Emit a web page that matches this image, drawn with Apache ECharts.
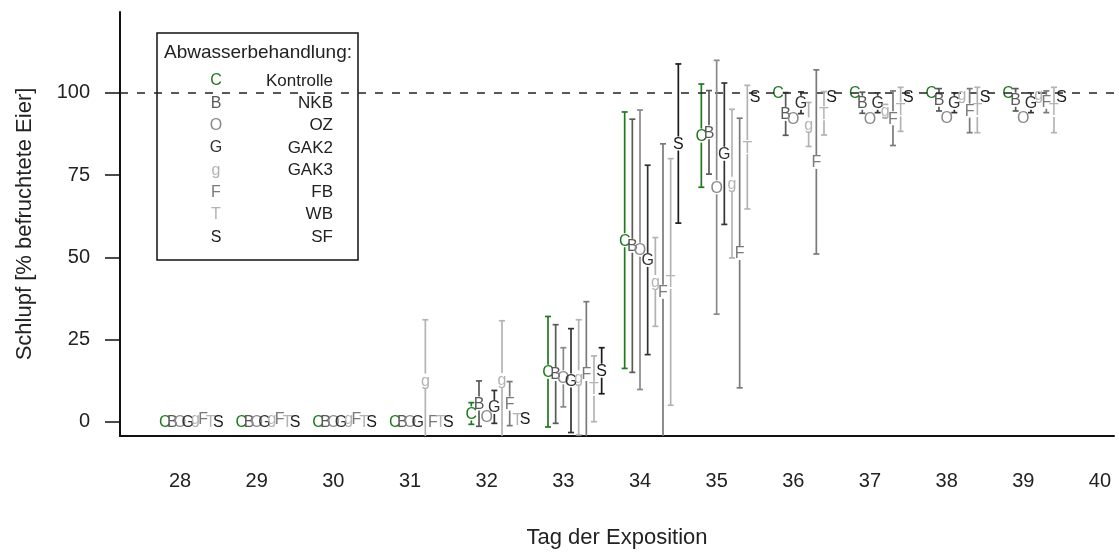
<!DOCTYPE html>
<html><head><meta charset="utf-8">
<script src="https://cdn.jsdelivr.net/npm/echarts@6/dist/echarts.min.js"></script>
<style>html,body{margin:0;padding:0;background:#fff}#c{width:1119px;height:552px}</style>
</head><body><div id="c"></div>
<script>
// ---------- data ----------
const days = [28, 29, 30, 31, 32, 33, 34, 35, 36, 37, 38, 39];
const symbols = ['C', 'B', 'O', 'G', 'g', 'F', 'T', 'S'];
const treatmentNames = ['Kontrolle', 'NKB', 'OZ', 'GAK2', 'GAK3', 'FB', 'WB', 'SF'];
const legendTitle = 'Abwasserbehandlung:';
const xTicks = [28, 29, 30, 31, 32, 33, 34, 35, 36, 37, 38, 39, 40];
const yTicks = [0, 25, 50, 75, 100];
const refLine = 100;
const xTitle = 'Tag der Exposition';
const yTitle = 'Schlupf [% befruchtete Eier]';

const meanC = [0, 0, 0, 0, 2.5, 15.2, 55.2, 87.0, 100, 100, 100, 100];
const sdC   = [0, 0, 0, 0, 3.3, 16.8, 39.0, 15.7, 0, 0, 0, 0];
const meanB = [0, 0, 0, 0, 5.5, 14.5, 53.5, 88.0, 93.6, 97.0, 97.9, 97.9];
const sdB   = [0, 0, 0, 0, 6.9, 15.0, 38.5, 12.7, 6.5, 3.2, 3.4, 3.4];
const meanO = [0, 0, 0, 0, 1.5, 13.5, 52.3, 71.3, 92.2, 92.2, 92.5, 92.5];
const sdO   = [0, 0, 0, 0, 0, 9.0, 42.5, 38.6, 0, 0, 0, 0];
const meanG = [0, 0, 0, 0, 4.5, 12.5, 49.2, 81.5, 97.0, 97.0, 97.0, 97.0];
const sdG   = [0, 0, 0, 0, 5.0, 15.8, 28.8, 21.5, 3.3, 3.0, 3.0, 3.0];
const meang = [1, 1, 1, 12.5, 12.7, 13.5, 42.5, 72.4, 90.4, 94.5, 99.5, 99.5];
const sdg   = [0, 0, 0, 18.5, 18.0, 17.5, 13.5, 22.6, 6.7, 2.0, 0, 0];
const meanF = [1, 1, 1, 0, 5.5, 14.5, 39.5, 51.3, 79.0, 92.3, 94.6, 97.3];
const sdF   = [0, 0, 0, 0, 6.7, 22.0, 45.0, 41.0, 28.0, 8.3, 6.7, 3.3];
const meanT = [0, 0, 0, 0, 0.5, 10.0, 42.5, 83.5, 93.8, 95.0, 94.8, 94.8];
const sdT   = [0, 0, 0, 0, 0, 10.0, 37.5, 18.8, 6.6, 6.7, 6.9, 6.9];
const meanS = [0, 0, 0, 0, 1, 15.5, 84.6, 99, 99, 99, 99, 99];
const sdS   = [0, 0, 0, 0, 0, 7.0, 24.2, 0, 0, 0, 0, 0];

const means = [meanC, meanB, meanO, meanG, meang, meanF, meanT, meanS];
const sds = [sdC, sdB, sdO, sdG, sdg, sdF, sdT, sdS];

// ---------- style ----------
const FONT = 'Liberation Sans';
const colors = ['#1f7a1f', '#5a5a5a', '#8a8a8a', '#333333', '#b3b3b3', '#7a7a7a', '#b3b3b3', '#1a1a1a'];
const OFFSET_STEP = 0.1;  // horizontal spread of treatments within a day
const GAP = 7;            // px gap of error bar around the letter
const CAP = 3;            // half cap width in px

const chart = echarts.init(document.getElementById('c'), null, { renderer: 'canvas' });

const series = symbols.map((sym, i) => ({
  type: 'custom',
  name: treatmentNames[i],
  silent: true,
  z: 3 + i,
  data: days.map((d, k) => [d, means[i][k], sds[i][k]]),
  encode: { x: 0, y: 1 },
  renderItem: (params, api) => {
    const day = api.value(0), m = api.value(1), s = api.value(2);
    const x = day + (i - 2) * OFFSET_STEP;
    const c = api.coord([x, m]);
    const cs = params.coordSys;
    const y0 = cs.y, y1 = cs.y + cs.height;
    const clamp = v => Math.max(y0, Math.min(y1, v));
    const children = [];
    const st = { stroke: colors[i], lineWidth: 1.7 };
    if (s > 0) {
      const top = api.coord([x, m + s])[1];
      const bot = api.coord([x, m - s])[1];
      if (c[1] - GAP > top) children.push({ type: 'line', shape: { x1: c[0], y1: clamp(top), x2: c[0], y2: c[1] - GAP }, style: st });
      if (c[1] + GAP < bot) children.push({ type: 'line', shape: { x1: c[0], y1: c[1] + GAP, x2: c[0], y2: clamp(bot) }, style: st });
      if (top >= y0) children.push({ type: 'line', shape: { x1: c[0] - CAP, y1: top, x2: c[0] + CAP, y2: top }, style: st });
      if (bot <= y1) children.push({ type: 'line', shape: { x1: c[0] - CAP, y1: bot, x2: c[0] + CAP, y2: bot }, style: st });
    }
    children.push({
      type: 'text', x: c[0], y: c[1] + 1,
      style: { text: sym, fill: colors[i], font: '16px "' + FONT + '"', align: 'center', verticalAlign: 'middle' }
    });
    return { type: 'group', children };
  }
}));

// dashed reference line at 100
series[0].markLine = {
  silent: true, symbol: 'none', label: { show: false },
  lineStyle: { type: [8, 9], color: '#222', width: 1.6 },
  data: [{ yAxis: refLine }]
};

// legend (drawn as graphic, on top of reference line)
const LX = 157, LY = 33, LW = 201, LH = 227, ROW = 22.3;
const legendChildren = [
  { type: 'rect', shape: { x: LX, y: LY, width: LW, height: LH }, style: { fill: '#fff', stroke: '#111', lineWidth: 1.5 } },
  { type: 'text', x: LX + 101, y: LY + 20, style: { text: legendTitle, fill: '#222', font: '19px "' + FONT + '"', align: 'center', verticalAlign: 'middle' } }
];
symbols.forEach((sym, i) => {
  legendChildren.push({ type: 'text', x: LX + 59, y: LY + 48 + i * ROW, style: { text: sym, fill: colors[i], font: '16px "' + FONT + '"', align: 'center', verticalAlign: 'middle' } });
  legendChildren.push({ type: 'text', x: LX + 176, y: LY + 48 + i * ROW, style: { text: treatmentNames[i], fill: '#222', font: '17px "' + FONT + '"', align: 'right', verticalAlign: 'middle' } });
});

chart.setOption({
  animation: false,
  backgroundColor: '#fff',
  grid: { left: 120, right: 5, top: 12, bottom: 116, containLabel: false, outerBoundsMode: 'none' },
  xAxis: {
    type: 'value', min: 27.217, max: 40.183,
    axisLine: { show: true, onZero: false, lineStyle: { color: '#111', width: 2 } },
    axisTick: { show: false },
    splitLine: { show: false },
    axisLabel: { customValues: xTicks, fontSize: 20, fontFamily: FONT, color: '#222', margin: 35 },
    name: xTitle, nameLocation: 'middle', nameGap: 91,
    nameTextStyle: { fontSize: 22, fontFamily: FONT, color: '#222' }
  },
  yAxis: {
    type: 'value', min: -4.35, max: 124.6,
    axisLine: { show: true, onZero: false, lineStyle: { color: '#111', width: 2 } },
    axisTick: { show: true, length: 15, customValues: yTicks, lineStyle: { color: '#111', width: 1.5 } },
    splitLine: { show: false },
    axisLabel: { customValues: yTicks, fontSize: 20, fontFamily: FONT, color: '#222', margin: 30 },
    name: yTitle, nameLocation: 'middle', nameGap: 84,
    nameTextStyle: { fontSize: 22, fontFamily: FONT, color: '#222' }
  },
  graphic: [{ type: 'group', z: 100, silent: true, children: legendChildren }],
  series
});
</script></body></html>
